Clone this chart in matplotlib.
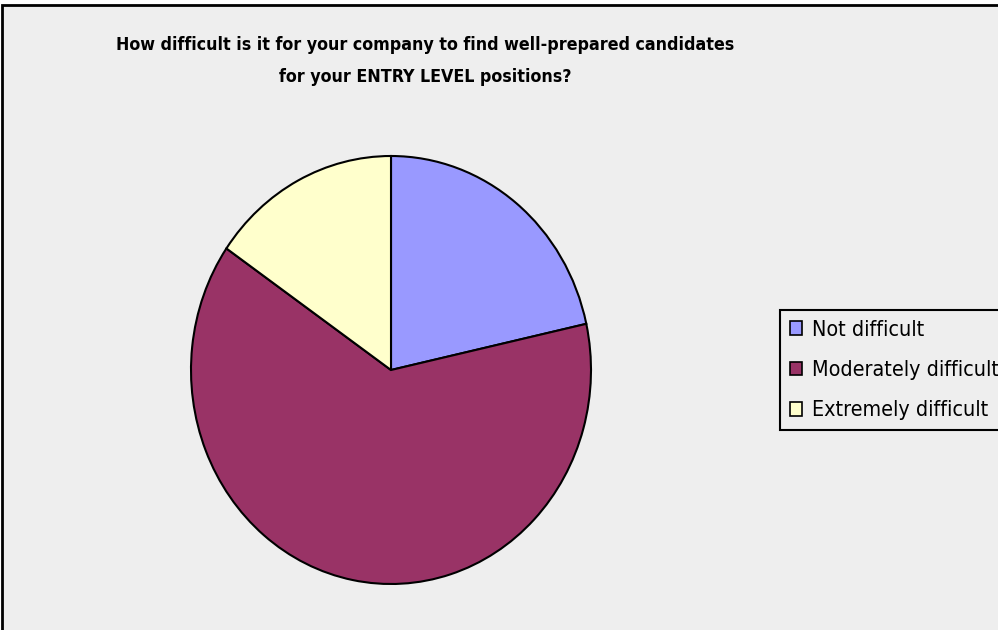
import matplotlib
matplotlib.use("Agg")
import matplotlib.pyplot as plt
import matplotlib.font_manager as fm
from matplotlib.patches import Rectangle, Patch

# Survey responses
categories = ["Not difficult", "Moderately difficult", "Extremely difficult"]
counts = [14, 41, 10]
colors = ["#9999FF", "#993366", "#FFFFCC"]

title_lines = ["How difficult is it for your company to find well-prepared candidates",
               "for your ENTRY LEVEL positions?"]

# pick a narrow face when one is installed
fonts = fm.fontManager.ttflist
if any(f.name == "Liberation Sans Narrow" for f in fonts):
    face = dict(family="Liberation Sans Narrow")
elif any(f.name == "DejaVu Sans" and f.stretch == "condensed" for f in fonts):
    face = dict(family="DejaVu Sans", stretch="condensed")
else:
    face = dict(family="DejaVu Sans")

W, H = 998, 630
fig = plt.figure(figsize=(W / 100, H / 100), dpi=100, facecolor="white")
renderer = fig.canvas.get_renderer()

# chart area background with border
fig.patches.append(Rectangle((2 / W, -0.2), 1.2, (H - 5) / H + 0.2,
                             transform=fig.transFigure,
                             facecolor="#EEEEEE", edgecolor="black", linewidth=2,
                             zorder=-10))


def fit_size(text, width_px, start=12, **kw):
    """Font size that makes `text` span `width_px` pixels."""
    t = fig.text(0, 0, text, fontsize=start, **kw)
    w = t.get_window_extent(renderer).width
    t.remove()
    return start * width_px / w


tsize = fit_size(title_lines[0], 616, fontweight="bold", **face)
for line, base in zip(title_lines, (50, 82)):
    fig.text(425 / W, 1 - base / H, line, ha="center", va="baseline",
             fontsize=tsize, fontweight="bold", **face)

# pie drawn in an axes that is slightly taller than wide
left, right, top, bottom = 191, 591, 156, 584
ax = fig.add_axes([left / W, 1 - bottom / H, (right - left) / W, (bottom - top) / H])
ax.pie(counts, colors=colors, startangle=90, counterclock=False,
       wedgeprops=dict(edgecolor="black", linewidth=1.5))
ax.set_aspect("auto")
ax.set_xlim(-1.0, 1.0)
ax.set_ylim(-1.0, 1.0)
ax.axis("off")

lsize = fit_size(categories[0], 112, **face)
handles = [Patch(facecolor=c, edgecolor="black", linewidth=1.2) for c in colors]
leg = fig.legend(handles, categories, loc="upper left",
                 bbox_to_anchor=(780 / W, 1 - 310 / H),
                 frameon=True, fancybox=False, edgecolor="black",
                 facecolor="#EEEEEE", framealpha=1,
                 prop=fm.FontProperties(size=lsize, **face),
                 handlelength=0.6, handleheight=0.6, handletextpad=0.45,
                 labelspacing=0.95, borderpad=0.45, borderaxespad=0)
leg.get_frame().set_linewidth(1.5)

fig.savefig("out.png", dpi=100, facecolor="white")
